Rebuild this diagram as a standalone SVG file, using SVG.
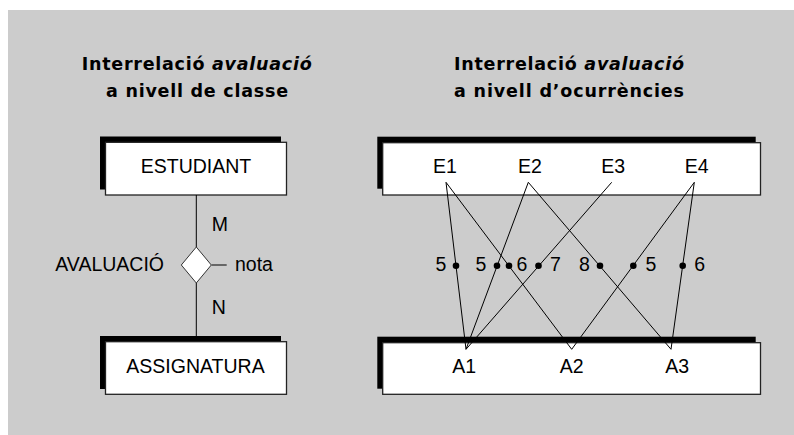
<svg xmlns="http://www.w3.org/2000/svg" width="794" height="435" viewBox="0 0 794 435">
<style>
.t{font-family:"Liberation Sans",Arial,sans-serif;font-size:19.5px;fill:#000}
.h{font-family:"DejaVu Sans","Liberation Sans",sans-serif;font-size:17.5px;font-weight:bold;fill:#000}
.sh{fill:#000}
.bx{fill:#fff;stroke:#222;stroke-width:1.3}
.ln{stroke:#000;stroke-width:1;fill:none}
.dot{fill:#000}
</style>
<rect x="8" y="10" width="786" height="425" fill="#cccccc"/>
<g id="titles">
<text class="h" x="196.7" y="70" text-anchor="middle" textLength="230" lengthAdjust="spacing">Interrelació <tspan font-style="italic">avaluació</tspan></text>
<text class="h" x="197" y="96.7" text-anchor="middle" textLength="182" lengthAdjust="spacing">a nivell de classe</text>
<text class="h" x="569" y="70" text-anchor="middle" textLength="230" lengthAdjust="spacing">Interrelació <tspan font-style="italic">avaluació</tspan></text>
<text class="h" x="569" y="96.7" text-anchor="middle" textLength="230" lengthAdjust="spacing">a nivell d’ocurrències</text>
</g>
<g id="estudiant">
<rect class="sh" x="100" y="136.5" width="181" height="53"/>
<rect class="bx" x="105.5" y="142.3" width="181" height="52.7"/>
<text class="t" x="196" y="173.3" text-anchor="middle">ESTUDIANT</text>
</g>
<g id="assignatura">
<rect class="sh" x="100" y="336" width="181" height="53"/>
<rect class="bx" x="105.5" y="341.7" width="181" height="52.6"/>
<text class="t" x="195.5" y="372.7" text-anchor="middle">ASSIGNATURA</text>
</g>
<g id="estudiants">
<rect class="sh" x="377.3" y="136.7" width="378.4" height="52"/>
<rect class="bx" x="382.7" y="142.7" width="377.8" height="52.3"/>
<text class="t" x="445" y="173.3" text-anchor="middle">E1</text>
<text class="t" x="530" y="173.3" text-anchor="middle">E2</text>
<text class="t" x="613.3" y="173.3" text-anchor="middle">E3</text>
<text class="t" x="696.7" y="173.3" text-anchor="middle">E4</text>
</g>
<g id="assignatures">
<rect class="sh" x="377.3" y="336.7" width="378.4" height="52"/>
<rect class="bx" x="382.7" y="342.7" width="377.8" height="51.6"/>
<text class="t" x="464.3" y="372.7" text-anchor="middle">A1</text>
<text class="t" x="571.7" y="372.7" text-anchor="middle">A2</text>
<text class="t" x="677.3" y="372.7" text-anchor="middle">A3</text>
</g>
<g id="connectors">
<line class="ln" x1="196.3" y1="195" x2="196.3" y2="247"/>
<line class="ln" x1="196.3" y1="283" x2="196.3" y2="336"/>
<line class="ln" x1="211.5" y1="265" x2="226.7" y2="265"/>
<line class="ln" x1="446" y1="182.3" x2="466" y2="349.3"/>
<line class="ln" x1="446" y1="182.3" x2="571.7" y2="349.3"/>
<line class="ln" x1="528.3" y1="182.3" x2="466" y2="349.3"/>
<line class="ln" x1="528.3" y1="182.3" x2="671" y2="349.3"/>
<line class="ln" x1="611.7" y1="182.3" x2="466" y2="349.3"/>
<line class="ln" x1="694.3" y1="182.3" x2="571.7" y2="349.3"/>
<line class="ln" x1="694.3" y1="182.3" x2="671" y2="349.3"/>
</g>
<g id="avaluacio">
<polygon points="196.3,247 211.3,265 196.3,283 181.3,265" fill="#fff" stroke="#333" stroke-width="1"/>
<text class="t" x="164" y="271" text-anchor="end">AVALUACIÓ</text>
<text class="t" x="211.7" y="230.7">M</text>
<text class="t" x="211.7" y="314">N</text>
<text class="t" x="235" y="271">nota</text>
</g>
<g id="notes">
<circle class="dot" cx="456" cy="265.7" r="3.3"/>
<circle class="dot" cx="497" cy="265.7" r="3.3"/>
<circle class="dot" cx="509" cy="265.7" r="3.3"/>
<circle class="dot" cx="538.5" cy="265.7" r="3.3"/>
<circle class="dot" cx="600" cy="265.7" r="3.3"/>
<circle class="dot" cx="633.3" cy="265.7" r="3.3"/>
<circle class="dot" cx="682.7" cy="265.7" r="3.3"/>
<text class="t" x="441" y="270.7" text-anchor="middle">5</text>
<text class="t" x="481" y="270.7" text-anchor="middle">5</text>
<text class="t" x="522" y="270.7" text-anchor="middle">6</text>
<text class="t" x="555.5" y="270.7" text-anchor="middle">7</text>
<text class="t" x="584.5" y="270.7" text-anchor="middle">8</text>
<text class="t" x="651" y="270.7" text-anchor="middle">5</text>
<text class="t" x="699.7" y="270.7" text-anchor="middle">6</text>
</g>
</svg>
